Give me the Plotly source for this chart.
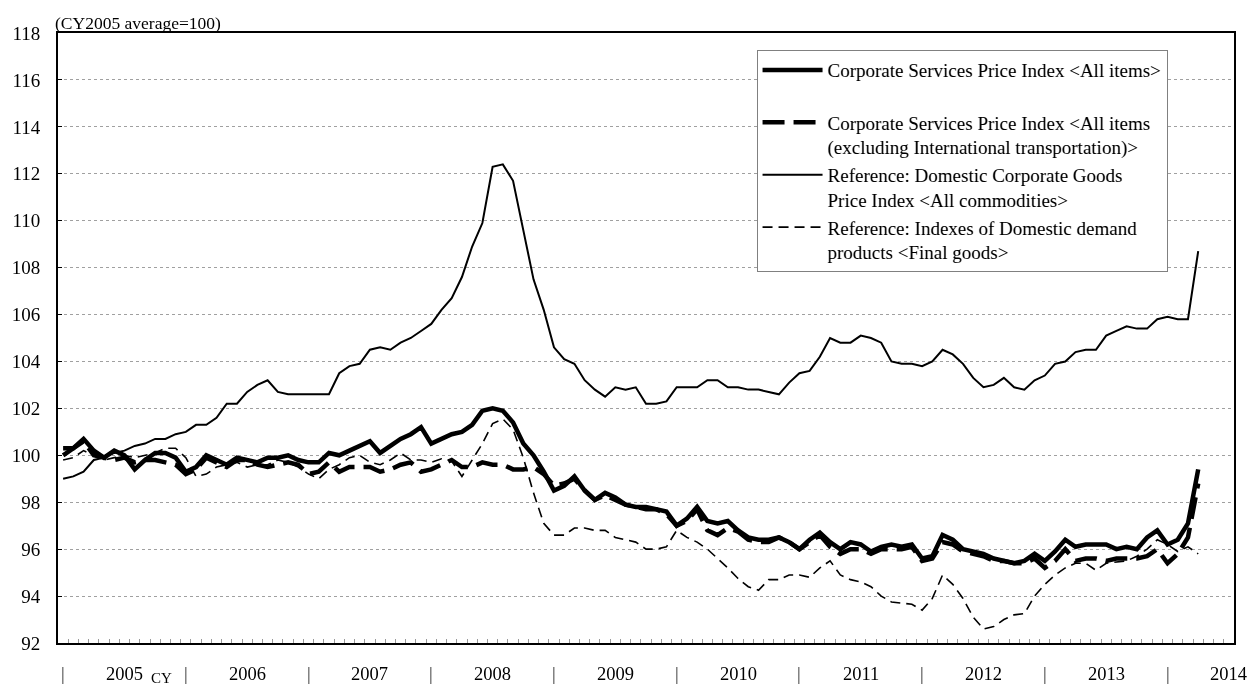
import plotly.graph_objects as go

# ---- categories: monthly, Jan 2005 .. Apr 2014 ----
years = list(range(2005, 2015))
months = [f"{y}/{m:02d}" for y in years for m in range(1, 13)][:112]
axis_months = [f"{y}/{m:02d}" for y in years for m in range(1, 13)][:115]

year_labels = ["2005", "2006", "2007", "2008", "2009", "2010", "2011", "2012", "2013", "2014"]
y_ticks = [92, 94, 96, 98, 100, 102, 104, 106, 108, 110, 112, 114, 116, 118]

# ---- series values ----
cspi_all = [
    100.0, 100.3, 100.7, 100.2, 99.9, 100.2, 100.0, 99.4, 99.8, 100.1, 100.1, 99.9,
    99.3, 99.5, 100.0, 99.8, 99.6, 99.9, 99.8, 99.7, 99.9, 99.9, 100.0, 99.8,
    99.7, 99.7, 100.1, 100.0, 100.2, 100.4, 100.6, 100.1, 100.4, 100.7, 100.9, 101.2,
    100.5, 100.7, 100.9, 101.0, 101.3, 101.9, 102.0, 101.9, 101.4, 100.5, 100.0, 99.3,
    98.5, 98.7, 99.1, 98.5, 98.1, 98.4, 98.2, 97.9, 97.8, 97.8, 97.7, 97.6,
    97.0, 97.3, 97.8, 97.2, 97.1, 97.2, 96.8, 96.5, 96.4, 96.4, 96.5, 96.3,
    96.0, 96.4, 96.7, 96.3, 96.0, 96.3, 96.2, 95.9, 96.1, 96.2, 96.1, 96.2,
    95.6, 95.7, 96.6, 96.4, 96.0, 95.9, 95.8, 95.6, 95.5, 95.4, 95.5, 95.8,
    95.5, 95.9, 96.4, 96.1, 96.2, 96.2, 96.2, 96.0, 96.1, 96.0, 96.5, 96.8,
    96.2, 96.4, 97.1, 99.4,
]
cspi_ex_intl = [
    100.3, 100.3, 100.6, 100.0, 99.9, 99.8, 99.9, 99.7, 99.8, 99.8, 99.7, 99.6,
    99.2, 99.4, 99.9, 99.7, 99.5, 99.8, 99.8, 99.6, 99.5, 99.6, 99.7, 99.6,
    99.2, 99.3, 99.7, 99.3, 99.5, 99.5, 99.5, 99.3, 99.4, 99.6, 99.7, 99.3,
    99.4, 99.6, 99.8, 99.5, 99.5, 99.7, 99.6, 99.6, 99.4, 99.4, 99.5, 99.2,
    98.7, 98.8, 99.0, 98.5, 98.1, 98.3, 98.1, 97.9, 97.8, 97.7, 97.7, 97.5,
    97.0, 97.2, 97.7, 96.8, 96.6, 96.9, 96.75, 96.4, 96.3, 96.3, 96.5, 96.3,
    96.0, 96.3, 96.6, 96.1, 95.8, 96.0, 96.0, 95.8, 96.0, 96.0, 96.0, 96.1,
    95.5, 95.6, 96.3, 96.2, 95.9, 95.8, 95.7, 95.5, 95.5, 95.4, 95.4, 95.6,
    95.2, 95.5, 96.0, 95.5, 95.6, 95.6, 95.5, 95.6, 95.6, 95.6, 95.7, 96.0,
    95.4, 95.8, 96.5, 98.8,
]
cgpi_domestic = [
    99.0, 99.1, 99.3, 99.8, 99.9, 100.1, 100.2, 100.4, 100.5, 100.7, 100.7, 100.9,
    101.0, 101.3, 101.3, 101.6, 102.2, 102.2, 102.7, 103.0, 103.2, 102.7, 102.6, 102.6,
    102.6, 102.6, 102.6, 103.5, 103.8, 103.9, 104.5, 104.6, 104.5, 104.8, 105.0, 105.3,
    105.6, 106.2, 106.7, 107.6, 108.9, 109.9, 112.3, 112.4, 111.7, 109.6, 107.5, 106.2,
    104.6, 104.1, 103.9, 103.2, 102.8, 102.5, 102.9, 102.8, 102.9, 102.2, 102.2, 102.3,
    102.9, 102.9, 102.9, 103.2, 103.2, 102.9, 102.9, 102.8, 102.8, 102.7, 102.6, 103.1,
    103.5, 103.6, 104.2, 105.0, 104.8, 104.8, 105.1, 105.0, 104.8, 104.0, 103.9, 103.9,
    103.8, 104.0, 104.5, 104.3, 103.9, 103.3, 102.9, 103.0, 103.3, 102.9, 102.8, 103.2,
    103.4, 103.9, 104.0, 104.4, 104.5, 104.5, 105.1, 105.3, 105.5, 105.4, 105.4, 105.8,
    105.9, 105.8, 105.8, 108.7,
]
domestic_final = [
    99.8, 99.9, 100.2, 100.0, 99.8, 99.9, 100.0, 99.9, 100.0, 100.1, 100.3, 100.3,
    99.9, 99.1, 99.2, 99.5, 99.6, 99.7, 99.5, 99.6, 99.6, 99.8, 99.7, 99.5,
    99.2, 99.0, 99.4, 99.6, 99.9, 100.0, 99.7, 99.6, 99.8, 100.1, 99.8, 99.8,
    99.7, 99.85, 99.75, 99.1, 99.8, 100.5, 101.35, 101.55, 101.1, 99.9, 98.4, 97.1,
    96.6, 96.6, 96.9, 96.9, 96.8, 96.8, 96.5, 96.4, 96.3, 96.0, 96.0, 96.1,
    96.8, 96.5, 96.3, 96.0, 95.6, 95.2, 94.75, 94.4, 94.25, 94.7, 94.7, 94.9,
    94.9, 94.8, 95.2, 95.5, 94.9, 94.7, 94.6, 94.4, 94.0, 93.75, 93.7, 93.65,
    93.4, 93.9, 94.9, 94.5, 93.9, 93.1, 92.6, 92.7, 93.0, 93.2, 93.25, 94.0,
    94.5, 94.9, 95.2, 95.4, 95.4, 95.1, 95.4, 95.45, 95.5, 95.7, 96.0, 96.4,
    96.2, 95.9, 96.1, 95.8,
]

names = [
    "Corporate Services Price Index &lt;All items&gt;<br> ",
    "Corporate Services Price Index &lt;All items<br>(excluding International transportation)&gt;",
    "Reference: Domestic Corporate Goods<br>Price Index &lt;All commodities&gt;",
    "Reference: Indexes of Domestic demand<br>products &lt;Final goods&gt;",
]

FONT = "Liberation Serif, Times New Roman, serif"

fig = go.Figure()
fig.add_trace(go.Scatter(x=months, y=cspi_all, name=names[0], mode="lines",
                         line=dict(color="black", width=4.5), legendrank=1))
fig.add_trace(go.Scatter(x=months, y=cspi_ex_intl, name=names[1], mode="lines",
                         line=dict(color="black", width=4.5, dash="22px,9px"), legendrank=2))
fig.add_trace(go.Scatter(x=months, y=cgpi_domestic, name=names[2], mode="lines",
                         line=dict(color="black", width=2), legendrank=3))
fig.add_trace(go.Scatter(x=months, y=domestic_final, name=names[3], mode="lines",
                         line=dict(color="black", width=1.6, dash="10px,6px"), legendrank=4))

# year labels under the axis
annotations = []
for i, lab in enumerate(year_labels):
    annotations.append(dict(x=12 * i + 6, y=0, xref="x", yref="paper", text=lab,
                            showarrow=False, yshift=-31, yanchor="middle",
                            font=dict(family=FONT, size=18.5, color="black")))
    annotations.append(dict(x=12 * i, y=0, xref="x", yref="paper", text="|",
                            showarrow=False, yshift=-31, yanchor="middle",
                            font=dict(family=FONT, size=18.5, color="#333333")))
annotations.append(dict(x=9.6, y=0, xref="x", yref="paper", text="CY", showarrow=False,
                        yshift=-35, yanchor="middle",
                        font=dict(family=FONT, size=15, color="black")))
annotations.append(dict(x=-0.004, y=1.017, xref="paper", yref="paper", text="(CY2005 average=100)",
                        showarrow=False, xanchor="left", yanchor="middle",
                        font=dict(family=FONT, size=17.5, color="black")))

fig.update_layout(
    width=1252, height=686,
    margin=dict(l=58, r=18, t=33, b=43),
    paper_bgcolor="white", plot_bgcolor="white",
    font=dict(family=FONT, size=18, color="black"),
    showlegend=True,
    legend=dict(x=0.594, y=0.972, xanchor="left", yanchor="top",
                bordercolor="#808080", borderwidth=1, bgcolor="white",
                font=dict(family=FONT, size=19, color="black"),
                valign="top", itemwidth=60, tracegroupgap=0),
    annotations=annotations,
)
fig.update_xaxes(
    type="category", categoryorder="array", categoryarray=axis_months,
    range=[-0.5, 114.5], showgrid=False, showticklabels=False,
    ticks="inside", tickson="boundaries", ticklen=4, tickcolor="#999999",
    tickmode="linear", tick0=0, dtick=1,
    showline=True, linecolor="black", linewidth=2, mirror=True,
)
fig.update_yaxes(
    range=[92, 118], tickvals=y_ticks, ticks="inside", ticklen=4, tickcolor="black",
    showgrid=True, gridcolor="#a0a0a0", griddash="dot", gridwidth=1,
    showline=True, linecolor="black", linewidth=2, mirror=True,
    tickfont=dict(family=FONT, size=19, color="black"), ticklabelstandoff=12,
    zeroline=False,
)

fig.write_html(
    "out.html", config={"displayModeBar": False},
    post_script=("document.body.style.margin='0';document.body.style.overflow='hidden';"
                 "document.querySelectorAll('.main-svg').forEach(function(s){s.style.filter='grayscale(100%)';});"),
)
